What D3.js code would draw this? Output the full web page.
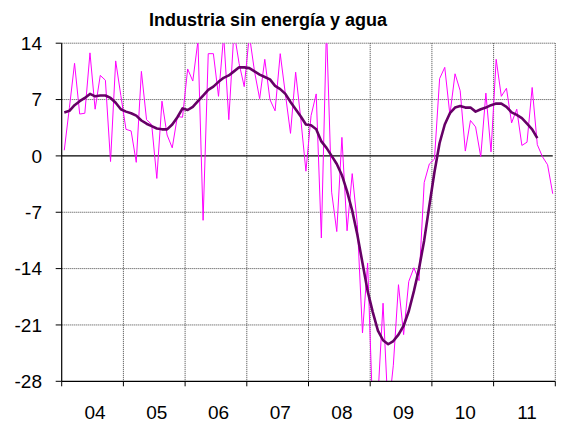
<!DOCTYPE html>
<html>
<head>
<meta charset="utf-8">
<script src="https://cdn.jsdelivr.net/npm/d3@7"></script>
<style>
  html, body { margin: 0; padding: 0; background: #fff; }
  svg { display: block; }
</style>
</head>
<body>
<svg id="chart" width="561" height="426"></svg>
<script>
// ---- data ----
const title = "Industria sin energía y agua";
const years = ["04", "05", "06", "07", "08", "09", "10", "11"];
const yTicks = [14, 7, 0, -7, -14, -21, -28];

// monthly year-on-year rate (thin magenta), Jan 2004 .. Dec 2011
const monthly = [
  0.7, 6.0, 11.5, 5.2, 5.3, 12.8, 5.8, 10.0, 9.4, -0.7, 11.8, 7.5,
  3.3, 3.1, -0.8, 10.5, 4.5, 3.9, -2.8, 6.8, 2.6, 1.0, 4.9, 4.8,
  10.8, 9.3, 14.3, -8.0, 12.7, 12.7, 7.4, 15.0, 4.5, 15.5, 11.5, 8.6,
  15.0, 10.5, 7.1, 12.0, 7.0, 5.6, 12.7, 7.7, 2.8, 10.4, 4.6, -1.9,
  5.0, 7.7, -10.2, 16.0, -4.5, -9.4, 2.3, -9.3, -2.2, -8.5, -22.0, -13.3,
  -32.0, -30.0, -18.3, -32.0, -26.0, -16.0, -22.2, -15.6, -13.9, -15.5, -3.3, -1.0,
  -0.4, 9.6, 11.0, 5.1, 10.2, 8.1, 0.6, 4.4, 3.6, -0.1, 7.8, 0.5,
  12.0, 7.4, 8.4, 4.1, 5.8, 1.3, 1.7, 8.5, 1.4, -0.1, -1.1, -4.7
];

// trend (thick purple), ends Sep 2011
const trend = [
  5.4, 5.6, 6.3, 6.8, 7.2, 7.7, 7.4, 7.5, 7.5, 7.2, 6.6, 5.8,
  5.5, 5.3, 5.0, 4.4, 4.0, 3.7, 3.4, 3.3, 3.3, 3.9, 4.8, 5.9,
  5.7, 6.1, 6.8, 7.5, 8.2, 8.6, 9.2, 9.7, 10.0, 10.5, 11.0, 11.0,
  10.9, 10.5, 10.1, 9.8, 9.5, 8.7, 8.3, 7.7, 6.7, 5.8, 4.9, 3.9,
  3.8, 3.3, 1.8, 1.0, 0.0, -1.0, -2.4, -4.4, -6.8, -9.8, -13.3, -16.8,
  -19.4, -21.7, -22.9, -23.4, -23.0, -22.2, -21.1, -19.3, -16.8, -14.0, -10.5, -6.2,
  -2.0, 1.6, 3.9, 5.3, 6.0, 6.2, 6.0, 6.0, 5.5, 5.8, 6.0, 6.3,
  6.5, 6.5, 6.1, 5.4, 5.1, 4.7, 4.0, 3.3, 2.2
];

// ---- layout ----
const svg = d3.select("#chart");
const L = 61.7, R = 555.3, T = 43.2, B = 381.3;
const nCat = years.length * 12;
const categories = d3.range(nCat);

const x = d3.scaleBand().domain(categories).range([L, R]).paddingInner(0).paddingOuter(0);
const xc = i => x(i) + x.bandwidth() / 2;
const y = d3.scaleLinear().domain([-28, 14]).range([B, T]);

const font = "'Liberation Sans', Arial, Helvetica, sans-serif";

// clip
svg.append("defs").append("clipPath").attr("id", "plot")
  .append("rect").attr("x", L).attr("y", T).attr("width", R - L).attr("height", B - T);

// horizontal gridlines
svg.append("g").selectAll("line")
  .data(yTicks.filter(v => v !== 0 && v !== -28))
  .join("line")
  .attr("x1", L).attr("x2", R)
  .attr("y1", d => y(d)).attr("y2", d => y(d))
  .attr("stroke", "#444").attr("stroke-width", 1)
  .attr("stroke-dasharray", "1,1");

// vertical gridlines at year boundaries
const yearBounds = d3.range(1, years.length + 1).map(k => k * 12);
svg.append("g").selectAll("line")
  .data(yearBounds)
  .join("line")
  .attr("x1", k => k < nCat ? x(k) : R).attr("x2", k => k < nCat ? x(k) : R)
  .attr("y1", T).attr("y2", B)
  .attr("stroke", "#444").attr("stroke-width", 1)
  .attr("stroke-dasharray", "1,1");

// zero line
svg.append("line")
  .attr("x1", L).attr("x2", xc(nCat - 1))
  .attr("y1", y(0)).attr("y2", y(0))
  .attr("stroke", "#000").attr("stroke-width", 1.3);

// series
const plot = svg.append("g").attr("clip-path", "url(#plot)");
const lineGen = d3.line()
  .defined(d => d.v != null)
  .x(d => xc(d.i)).y(d => y(d.v));

plot.append("path")
  .datum(monthly.map((v, i) => ({ i, v })))
  .attr("d", lineGen)
  .attr("fill", "none").attr("stroke", "#FF00FF").attr("stroke-width", 1);

plot.append("path")
  .datum(trend.map((v, i) => ({ i, v })))
  .attr("d", lineGen)
  .attr("fill", "none").attr("stroke", "#660066").attr("stroke-width", 2.6)
  .attr("stroke-linejoin", "round");

// axes lines
svg.append("line").attr("x1", L).attr("x2", L).attr("y1", T).attr("y2", B)
  .attr("stroke", "#000").attr("stroke-width", 1.2);
svg.append("line").attr("x1", L).attr("x2", R).attr("y1", B).attr("y2", B)
  .attr("stroke", "#000").attr("stroke-width", 1.2);

// y ticks & labels
svg.append("g").selectAll("line").data(yTicks).join("line")
  .attr("x1", L - 6).attr("x2", L).attr("y1", d => y(d)).attr("y2", d => y(d))
  .attr("stroke", "#000").attr("stroke-width", 1);
svg.append("g").selectAll("text").data(yTicks).join("text")
  .attr("x", 42).attr("y", d => y(d)).attr("dy", "0.36em")
  .attr("text-anchor", "end")
  .attr("font-family", font).attr("font-size", 19)
  .text(d => d);

// x ticks & labels
svg.append("g").selectAll("line").data(d3.range(0, years.length + 1).map(k => k * 12)).join("line")
  .attr("x1", k => k < nCat ? x(k) : R).attr("x2", k => k < nCat ? x(k) : R)
  .attr("y1", B).attr("y2", B + 5)
  .attr("stroke", "#000").attr("stroke-width", 1);
svg.append("g").selectAll("text").data(years).join("text")
  .attr("x", (d, k) => xc(k * 12 + 6))
  .attr("y", 419)
  .attr("text-anchor", "middle")
  .attr("font-family", font).attr("font-size", 19)
  .text(d => d);

// title
svg.append("text")
  .attr("x", 268).attr("y", 26)
  .attr("text-anchor", "middle")
  .attr("font-family", font).attr("font-size", 18).attr("font-weight", "bold")
  .text(title);
</script>
</body>
</html>
